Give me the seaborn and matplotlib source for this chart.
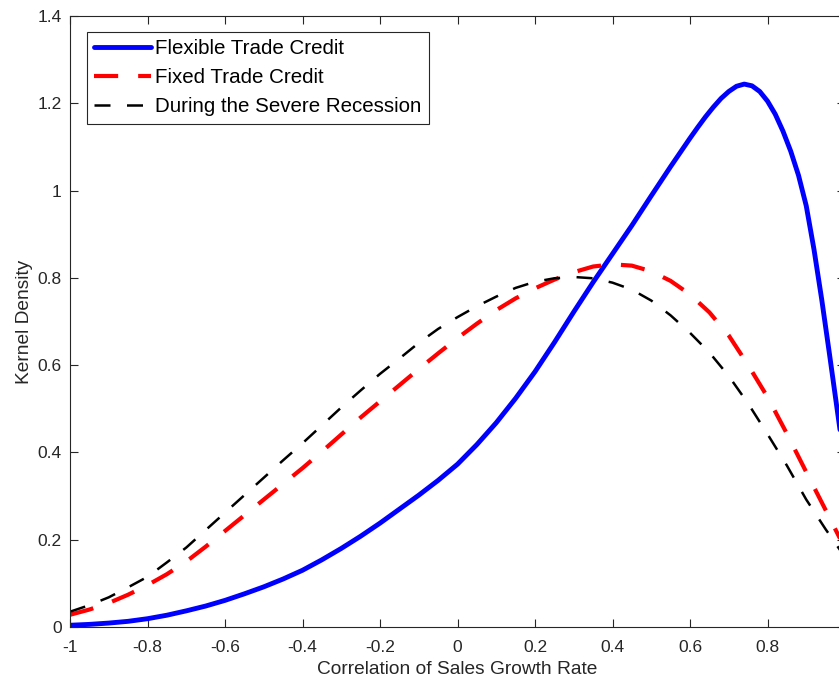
import numpy as np
import pandas as pd
import matplotlib
matplotlib.use("Agg")
import matplotlib.pyplot as plt
import seaborn as sns

# Correlation grid for the two dashed density estimates
corr_x = [-1.00, -0.95, -0.90, -0.85, -0.80, -0.75, -0.70, -0.65, -0.60, -0.55,
          -0.50, -0.45, -0.40, -0.35, -0.30, -0.25, -0.20, -0.15, -0.10, -0.05,
          0.00, 0.05, 0.10, 0.15, 0.20, 0.25, 0.30, 0.35, 0.40, 0.45,
          0.50, 0.55, 0.60, 0.65, 0.70, 0.75, 0.80, 0.85, 0.90, 0.95, 1.00]

fixed_density = [0.028, 0.040, 0.055, 0.074, 0.096, 0.121, 0.150, 0.184, 0.220, 0.256,
                 0.292, 0.328, 0.364, 0.402, 0.441, 0.480, 0.517, 0.554, 0.591, 0.627,
                 0.662, 0.695, 0.726, 0.753, 0.776, 0.796, 0.813, 0.826, 0.831, 0.828,
                 0.815, 0.793, 0.762, 0.721, 0.668, 0.600, 0.527, 0.443, 0.355, 0.268, 0.180]

recession_density = [0.035, 0.050, 0.068, 0.091, 0.115, 0.148, 0.182, 0.222, 0.262, 0.302,
                     0.342, 0.382, 0.421, 0.462, 0.503, 0.542, 0.580, 0.615, 0.651, 0.683,
                     0.710, 0.735, 0.757, 0.777, 0.791, 0.799, 0.802, 0.799, 0.789, 0.773,
                     0.748, 0.714, 0.674, 0.629, 0.575, 0.512, 0.442, 0.370, 0.292, 0.224, 0.160]

# Flexible trade credit: finer grid around the sharp peak
flex_x = [-1.00, -0.95, -0.90, -0.85, -0.80, -0.75, -0.70, -0.65, -0.60, -0.55,
          -0.50, -0.45, -0.40, -0.35, -0.30, -0.25, -0.20, -0.15, -0.10, -0.05,
          0.00, 0.05, 0.10, 0.15, 0.20, 0.25, 0.30, 0.35, 0.40, 0.45,
          0.50, 0.55, 0.60, 0.62, 0.64, 0.66, 0.68, 0.70, 0.72, 0.74,
          0.76, 0.78, 0.80, 0.82, 0.84, 0.86, 0.88, 0.90, 0.92, 0.94,
          0.96, 0.98, 1.00]
flex_density = [0.004, 0.006, 0.009, 0.013, 0.019, 0.027, 0.037, 0.048, 0.061, 0.076,
                0.092, 0.110, 0.130, 0.154, 0.180, 0.208, 0.238, 0.270, 0.302, 0.336,
                0.373, 0.418, 0.468, 0.524, 0.585, 0.652, 0.722, 0.790, 0.855, 0.920,
                0.988, 1.055, 1.120, 1.145, 1.169, 1.191, 1.211, 1.227, 1.239, 1.244,
                1.240, 1.227, 1.205, 1.175, 1.136, 1.090, 1.035, 0.965, 0.865, 0.750,
                0.625, 0.497, 0.370]

legend_labels = ["Flexible Trade Credit", "Fixed Trade Credit", "During the Severe Recession"]
x_ticks = [-1, -0.8, -0.6, -0.4, -0.2, 0, 0.2, 0.4, 0.6, 0.8]
x_tick_labels = ["-1", "-0.8", "-0.6", "-0.4", "-0.2", "0", "0.2", "0.4", "0.6", "0.8"]
y_ticks = [0, 0.2, 0.4, 0.6, 0.8, 1.0, 1.2, 1.4]
y_tick_labels = ["0", "0.2", "0.4", "0.6", "0.8", "1", "1.2", "1.4"]

sns.set_style("white")
plt.rcParams["font.family"] = ["Liberation Sans", "DejaVu Sans"]

W, H = 839, 683
fig = plt.figure(figsize=(W / 100, H / 100), dpi=100)
ax = fig.add_axes([70 / W, (H - 627) / H, 775 / W, 611 / H])

ink = (0.15, 0.15, 0.15)

flex_df = pd.DataFrame({"x": flex_x, "y": flex_density})
fixed_df = pd.DataFrame({"x": corr_x, "y": fixed_density})
rec_df = pd.DataFrame({"x": corr_x, "y": recession_density})

sns.lineplot(data=flex_df, x="x", y="y", ax=ax, color="#0000ff", linewidth=3.5,
             label=legend_labels[0], sort=False, solid_joinstyle="round")
sns.lineplot(data=fixed_df, x="x", y="y", ax=ax, color="#ff0000", linewidth=3.0,
             linestyle=(0, (5.8, 4.8)), label=legend_labels[1], sort=False)
sns.lineplot(data=rec_df, x="x", y="y", ax=ax, color="black", linewidth=1.8,
             linestyle=(0, (6.4, 6.6)), label=legend_labels[2], sort=False)

ax.set_xlim(-1, 1)
ax.set_ylim(0, 1.4)
ax.set_xticks(x_ticks)
ax.set_xticklabels(x_tick_labels)
ax.set_yticks(y_ticks)
ax.set_yticklabels(y_tick_labels)

ax.tick_params(axis="both", which="both", direction="in", length=5.5, width=0.8,
               color=ink, labelcolor=ink, labelsize=12.5,
               top=True, right=True, bottom=True, left=True)
ax.tick_params(axis="x", pad=9)
ax.tick_params(axis="y", pad=6)

for side in ["left", "right", "top", "bottom"]:
    ax.spines[side].set_visible(True)
    ax.spines[side].set_color(ink)
    ax.spines[side].set_linewidth(0.8)

ax.set_xlabel("Correlation of Sales Growth Rate", fontsize=13.8, color=ink, labelpad=5)
ax.set_ylabel("Kernel Density", fontsize=13.8, color=ink, labelpad=3)

leg = ax.legend(loc="upper left", bbox_to_anchor=(87 / W, 1 - 32 / H),
                bbox_transform=fig.transFigure, borderaxespad=0,
                fontsize=14.8, frameon=True, fancybox=False, framealpha=1,
                handlelength=2.75, handletextpad=0.2, labelspacing=0.48,
                borderpad=0.36)
leg.get_frame().set_edgecolor(ink)
leg.get_frame().set_linewidth(0.8)
for t in leg.get_texts():
    t.set_color("black")

fig.savefig("out.png", dpi=100)
